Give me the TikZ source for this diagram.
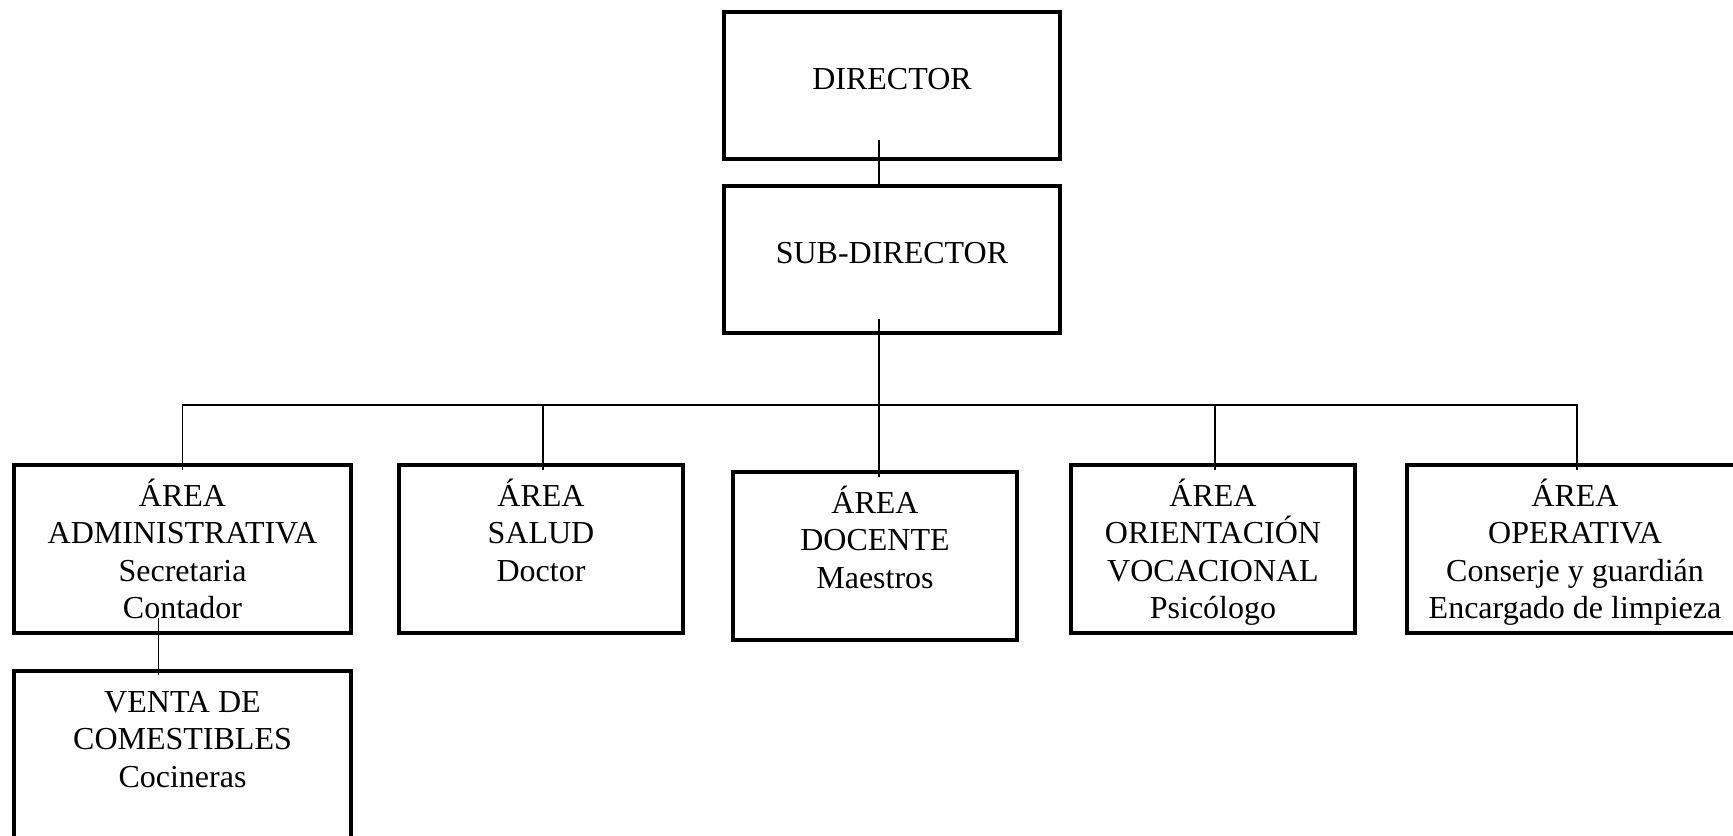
\documentclass[tikz,border=0pt]{standalone}
\usepackage{fontspec}
\setmainfont{Liberation Serif}
\usepackage{tikz}
\tikzset{
    org-box/.style = {draw, line width=2pt, rectangle, outer sep=0pt, inner sep=0pt, align=flush center, anchor=north, font=\fontsize{16}{18.75}\selectfont},
    head-box/.style = {org-box, text width=168pt, text height=38.5pt, text depth=35pt},
    area-box/.style = {org-box, text height=20.5pt, text depth=63.5pt},
    org-line/.style = {draw, line width=0.8pt},
}

\begin{document}
\begin{tikzpicture}[x=0.5pt, y=-0.5pt]
\useasboundingbox (0,0) rectangle (1733,835);
\node[head-box] (dir) at (892,12) {DIRECTOR};
\node[head-box] (sub) at (892,186) {SUB-DIRECTOR};
\node[area-box, text width=168.5pt] (admin) at (182.5,465) {ÁREA\\ ADMINISTRATIVA\\ Secretaria\\ Contador};
\node[area-box, text width=142pt] (salud) at (541,465) {ÁREA\\ SALUD\\ Doctor};
\node[area-box, text width=142pt] (doc) at (875,472) {ÁREA\\ DOCENTE\\ Maestros};
\node[area-box, text width=142pt] (orient) at (1213,465) {ÁREA\\ ORIENTACIÓN\\ VOCACIONAL\\ Psicólogo};
\node[area-box, text width=168pt] (oper) at (1575,465) {ÁREA\\ OPERATIVA\\ Conserje y guardián\\ Encargado de limpieza};
\node[area-box, text width=168.5pt, text depth=120pt] (venta) at (182.5,671) {VENTA DE\\ COMESTIBLES\\ Cocineras};

\coordinate (bar) at (0,405);
\draw[org-line] ([xshift=2pt, yshift=9.5pt]dir.south -| doc.north) -- ([xshift=2pt, yshift=-1pt]sub.north -| doc.north);
\draw[org-line] ([xshift=2pt, yshift=7pt]sub.south -| doc.north) -- ([xshift=2pt, yshift=-2.5pt]doc.north);
\draw[org-line] ([yshift=-2.5pt]admin.north) -- (admin.north |- bar) -- ([xshift=1pt]oper.north |- bar) -- ([xshift=1pt, yshift=-2.5pt]oper.north);
\foreach \n in {salud, orient}
    \draw[org-line] ([xshift=1pt]\n.north |- bar) -- ([xshift=1pt, yshift=-2.5pt]\n.north);
\draw[org-line] ([xshift=-12pt, yshift=7.5pt]admin.south) -- ([xshift=-12pt, yshift=-2pt]venta.north);
\end{tikzpicture}
\end{document}
